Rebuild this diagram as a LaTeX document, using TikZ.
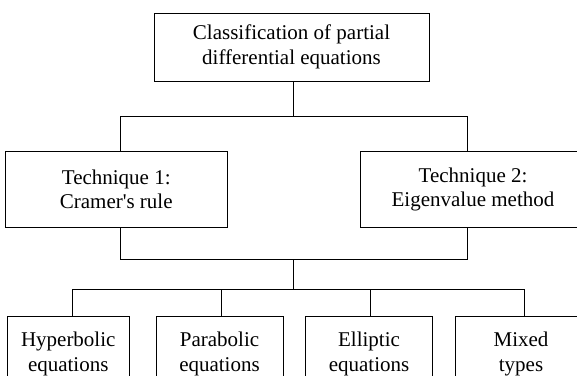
\documentclass[tikz,border=0pt]{standalone}
\usepackage{fontspec}
\setmainfont{Liberation Serif}
\newcommand\boxfont{\fontsize{21}{24.5}\selectfont}
\begin{document}
\begin{tikzpicture}[x=1pt,y=1pt,
  box/.style={draw, line width=0.8pt, align=center, inner sep=0pt, font=\boxfont},
  link/.style={line width=0.8pt}]
\useasboundingbox (0,0) rectangle (577,375);
\clip (0,0) rectangle (577,375);
\node[box, minimum width=275pt, minimum height=68pt] (top) at (291.5,328) {Classification of partial\\differential equations};
\node[box, minimum width=221.5pt, minimum height=75.5pt] (t1) at (116.25,185.75) {Technique 1:\\Cramer\textquotesingle s rule};
\node[box, minimum width=226pt, minimum height=75.5pt] (t2) at (473,185.75) {Technique 2:\\Eigenvalue method};
\node[box, minimum width=122.5pt, minimum height=76pt] (h) at (68.25,21) {Hyperbolic\\equations};
\node[box, minimum width=127pt, minimum height=76pt] (p) at (219.5,21) {Parabolic\\equations};
\node[box, minimum width=127pt, minimum height=76pt] (e) at (369,21) {Elliptic\\equations};
\node[box, minimum width=132pt, minimum height=76pt] (m) at (521,21) {Mixed\\types};
\coordinate (j1) at (293,259);
\coordinate (j2) at (293,116);
\coordinate (j3) at (293,86);
\coordinate (a1) at (120,259);
\coordinate (a2) at (467,259);
\coordinate (b1) at (120,116);
\coordinate (b2) at (467,116);
\coordinate (c1) at (72,86);
\coordinate (c2) at (221.5,86);
\coordinate (c3) at (370,86);
\coordinate (c4) at (524,86);
\draw[link] (j1 |- top.south) -- (j1);
\draw[link] (a1 |- t1.north) -- (a1) -- (a2) -- (a2 |- t2.north);
\draw[link] (b1 |- t1.south) -- (b1) -- (b2) -- (b2 |- t2.south);
\draw[link] (j2) -- (j3);
\draw[link] (c1 |- h.north) -- (c1) -- (c4) -- (c4 |- m.north);
\draw[link] (c2) -- (c2 |- p.north);
\draw[link] (c3) -- (c3 |- e.north);
\end{tikzpicture}
\end{document}
